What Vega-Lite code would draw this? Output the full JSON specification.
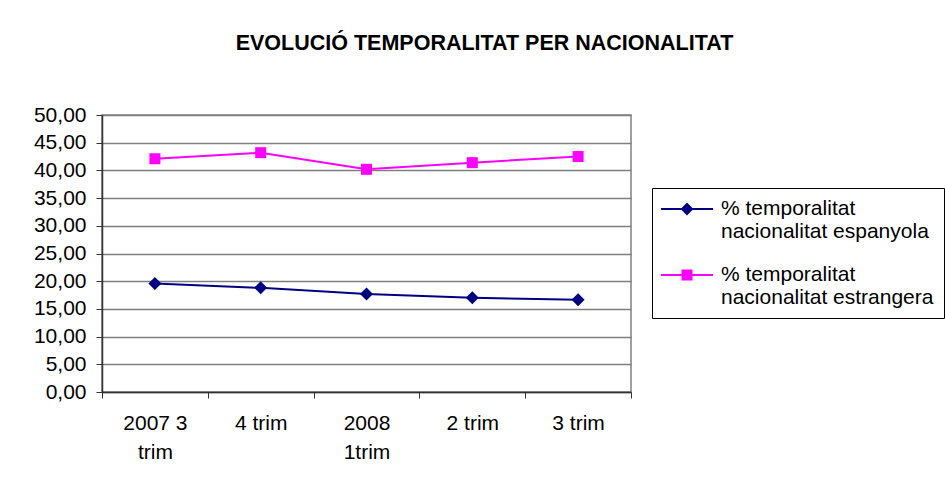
{
  "$schema": "https://vega.github.io/schema/vega-lite/v6.json",
  "width": 529,
  "height": 277,
  "autosize": "none",
  "padding": {"left": 102, "top": 115, "right": 314, "bottom": 95},
  "background": "white",
  "config": {
    "font": "Liberation Sans",
    "locale": {"number": {"decimal": ",", "thousands": ".", "grouping": [3], "currency": ["", " €"]}},
    "view": {"stroke": "#808080", "strokeWidth": 1.5},
    "axis": {"labelFont": "Liberation Sans", "labelFontSize": 21, "labelColor": "black"}
  },
  "title": {
    "text": "EVOLUCIÓ TEMPORALITAT PER NACIONALITAT",
    "font": "Liberation Sans",
    "fontSize": 21.5,
    "fontWeight": "bold",
    "anchor": "middle",
    "dx": 118,
    "offset": 50,
    "color": "black"
  },
  "data": {
    "values": [
      {"periode": "2007 3 trim", "serie": "% temporalitat nacionalitat espanyola", "valor": 19.6},
      {"periode": "4 trim", "serie": "% temporalitat nacionalitat espanyola", "valor": 18.8},
      {"periode": "2008 1trim", "serie": "% temporalitat nacionalitat espanyola", "valor": 17.7},
      {"periode": "2 trim", "serie": "% temporalitat nacionalitat espanyola", "valor": 17.0},
      {"periode": "3 trim", "serie": "% temporalitat nacionalitat espanyola", "valor": 16.65},
      {"periode": "2007 3 trim", "serie": "% temporalitat nacionalitat estrangera", "valor": 42.1},
      {"periode": "4 trim", "serie": "% temporalitat nacionalitat estrangera", "valor": 43.2},
      {"periode": "2008 1trim", "serie": "% temporalitat nacionalitat estrangera", "valor": 40.2},
      {"periode": "2 trim", "serie": "% temporalitat nacionalitat estrangera", "valor": 41.4},
      {"periode": "3 trim", "serie": "% temporalitat nacionalitat estrangera", "valor": 42.5}
    ]
  },
  "encoding": {
    "x": {
      "field": "periode",
      "type": "ordinal",
      "sort": ["2007 3 trim", "4 trim", "2008 1trim", "2 trim", "3 trim"],
      "scale": {"type": "band", "paddingInner": 0, "paddingOuter": 0},
      "bandPosition": 0.5,
      "axis": {
        "title": null,
        "labelAngle": 0,
        "labelExpr": "datum.value == '2007 3 trim' ? ['2007 3', 'trim'] : datum.value == '2008 1trim' ? ['2008', '1trim'] : datum.value",
        "labelLineHeight": 29,
        "labelPadding": 14,
        "labelBaseline": "top",
        "tickSize": 6,
        "tickColor": "#333333",
        "domainColor": "#333333",
        "domainWidth": 1.5,
        "tickBand": "extent",
        "grid": false
      }
    },
    "y": {
      "field": "valor",
      "type": "quantitative",
      "scale": {"domain": [0, 50], "nice": false},
      "axis": {
        "title": null,
        "values": [0, 5, 10, 15, 20, 25, 30, 35, 40, 45, 50],
        "format": ".2f",
        "grid": true,
        "gridColor": "#808080",
        "gridWidth": 1.5,
        "tickSize": 6,
        "labelPadding": 10,
        "tickColor": "#333333",
        "domainColor": "#333333",
        "domainWidth": 1.5
      }
    }
  },
  "layer": [
    {
      "transform": [{"filter": "datum.serie == '% temporalitat nacionalitat espanyola'"}],
      "mark": {"type": "line", "strokeWidth": 2, "color": "#000080"}
    },
    {
      "transform": [{"filter": "datum.serie == '% temporalitat nacionalitat estrangera'"}],
      "mark": {"type": "line", "strokeWidth": 2, "color": "#FF00FF"}
    },
    {
      "transform": [{"filter": "datum.serie == '% temporalitat nacionalitat espanyola'"}],
      "mark": {"type": "point", "shape": "diamond", "filled": true, "opacity": 1, "size": 170, "color": "#000080"}
    },
    {
      "transform": [{"filter": "datum.serie == '% temporalitat nacionalitat estrangera'"}],
      "mark": {"type": "point", "shape": "square", "filled": true, "opacity": 1, "size": 121, "color": "#FF00FF"}
    },
    {
      "mark": {"type": "point", "filled": false, "opacity": 0, "size": 400, "strokeWidth": 2},
      "encoding": {
        "color": {
          "field": "serie",
          "type": "nominal",
          "scale": {"domain": ["% temporalitat nacionalitat espanyola", "% temporalitat nacionalitat estrangera"], "range": ["#000080", "#FF00FF"]},
          "legend": {
            "title": null, "orient": "none", "legendX": 550, "legendY": 73, "padding": 10,
            "strokeColor": "black", "fillColor": "white", "symbolSize": 400, "symbolOffset": 14, "symbolOpacity": 1, "symbolStrokeWidth": 2,
            "labelFont": "Liberation Sans", "labelFontSize": 21, "labelColor": "black", "labelLimit": 400, "labelOffset": 23, "rowPadding": 22,
            "labelExpr": "['% temporalitat', slice(datum.label, 15)]"
          }
        },
        "shape": {
          "field": "serie",
          "type": "nominal",
          "scale": {"domain": ["% temporalitat nacionalitat espanyola", "% temporalitat nacionalitat estrangera"], "range": ["M-2.6,0L2.6,0M0,-0.5L0.5,0L0,0.5L-0.5,0ZM0,-0.3L0.3,0L0,0.3L-0.3,0ZM0,-0.1L0.1,0L0,0.1L-0.1,0Z", "M-2.6,0L2.6,0M-0.45,-0.45L0.45,-0.45L0.45,0.45L-0.45,0.45ZM-0.3,-0.3L0.3,-0.3L0.3,0.3L-0.3,0.3ZM-0.15,-0.15L0.15,-0.15L0.15,0.15L-0.15,0.15ZM-0.02,-0.02L0.02,-0.02L0.02,0.02L-0.02,0.02Z"]},
          "legend": {
            "title": null, "orient": "none", "legendX": 550, "legendY": 73, "padding": 10,
            "strokeColor": "black", "fillColor": "white", "symbolSize": 400, "symbolOffset": 14, "symbolOpacity": 1, "symbolStrokeWidth": 2,
            "labelFont": "Liberation Sans", "labelFontSize": 21, "labelColor": "black", "labelLimit": 400, "labelOffset": 23, "rowPadding": 22,
            "labelExpr": "['% temporalitat', slice(datum.label, 15)]"
          }
        }
      }
    }
  ]
}
